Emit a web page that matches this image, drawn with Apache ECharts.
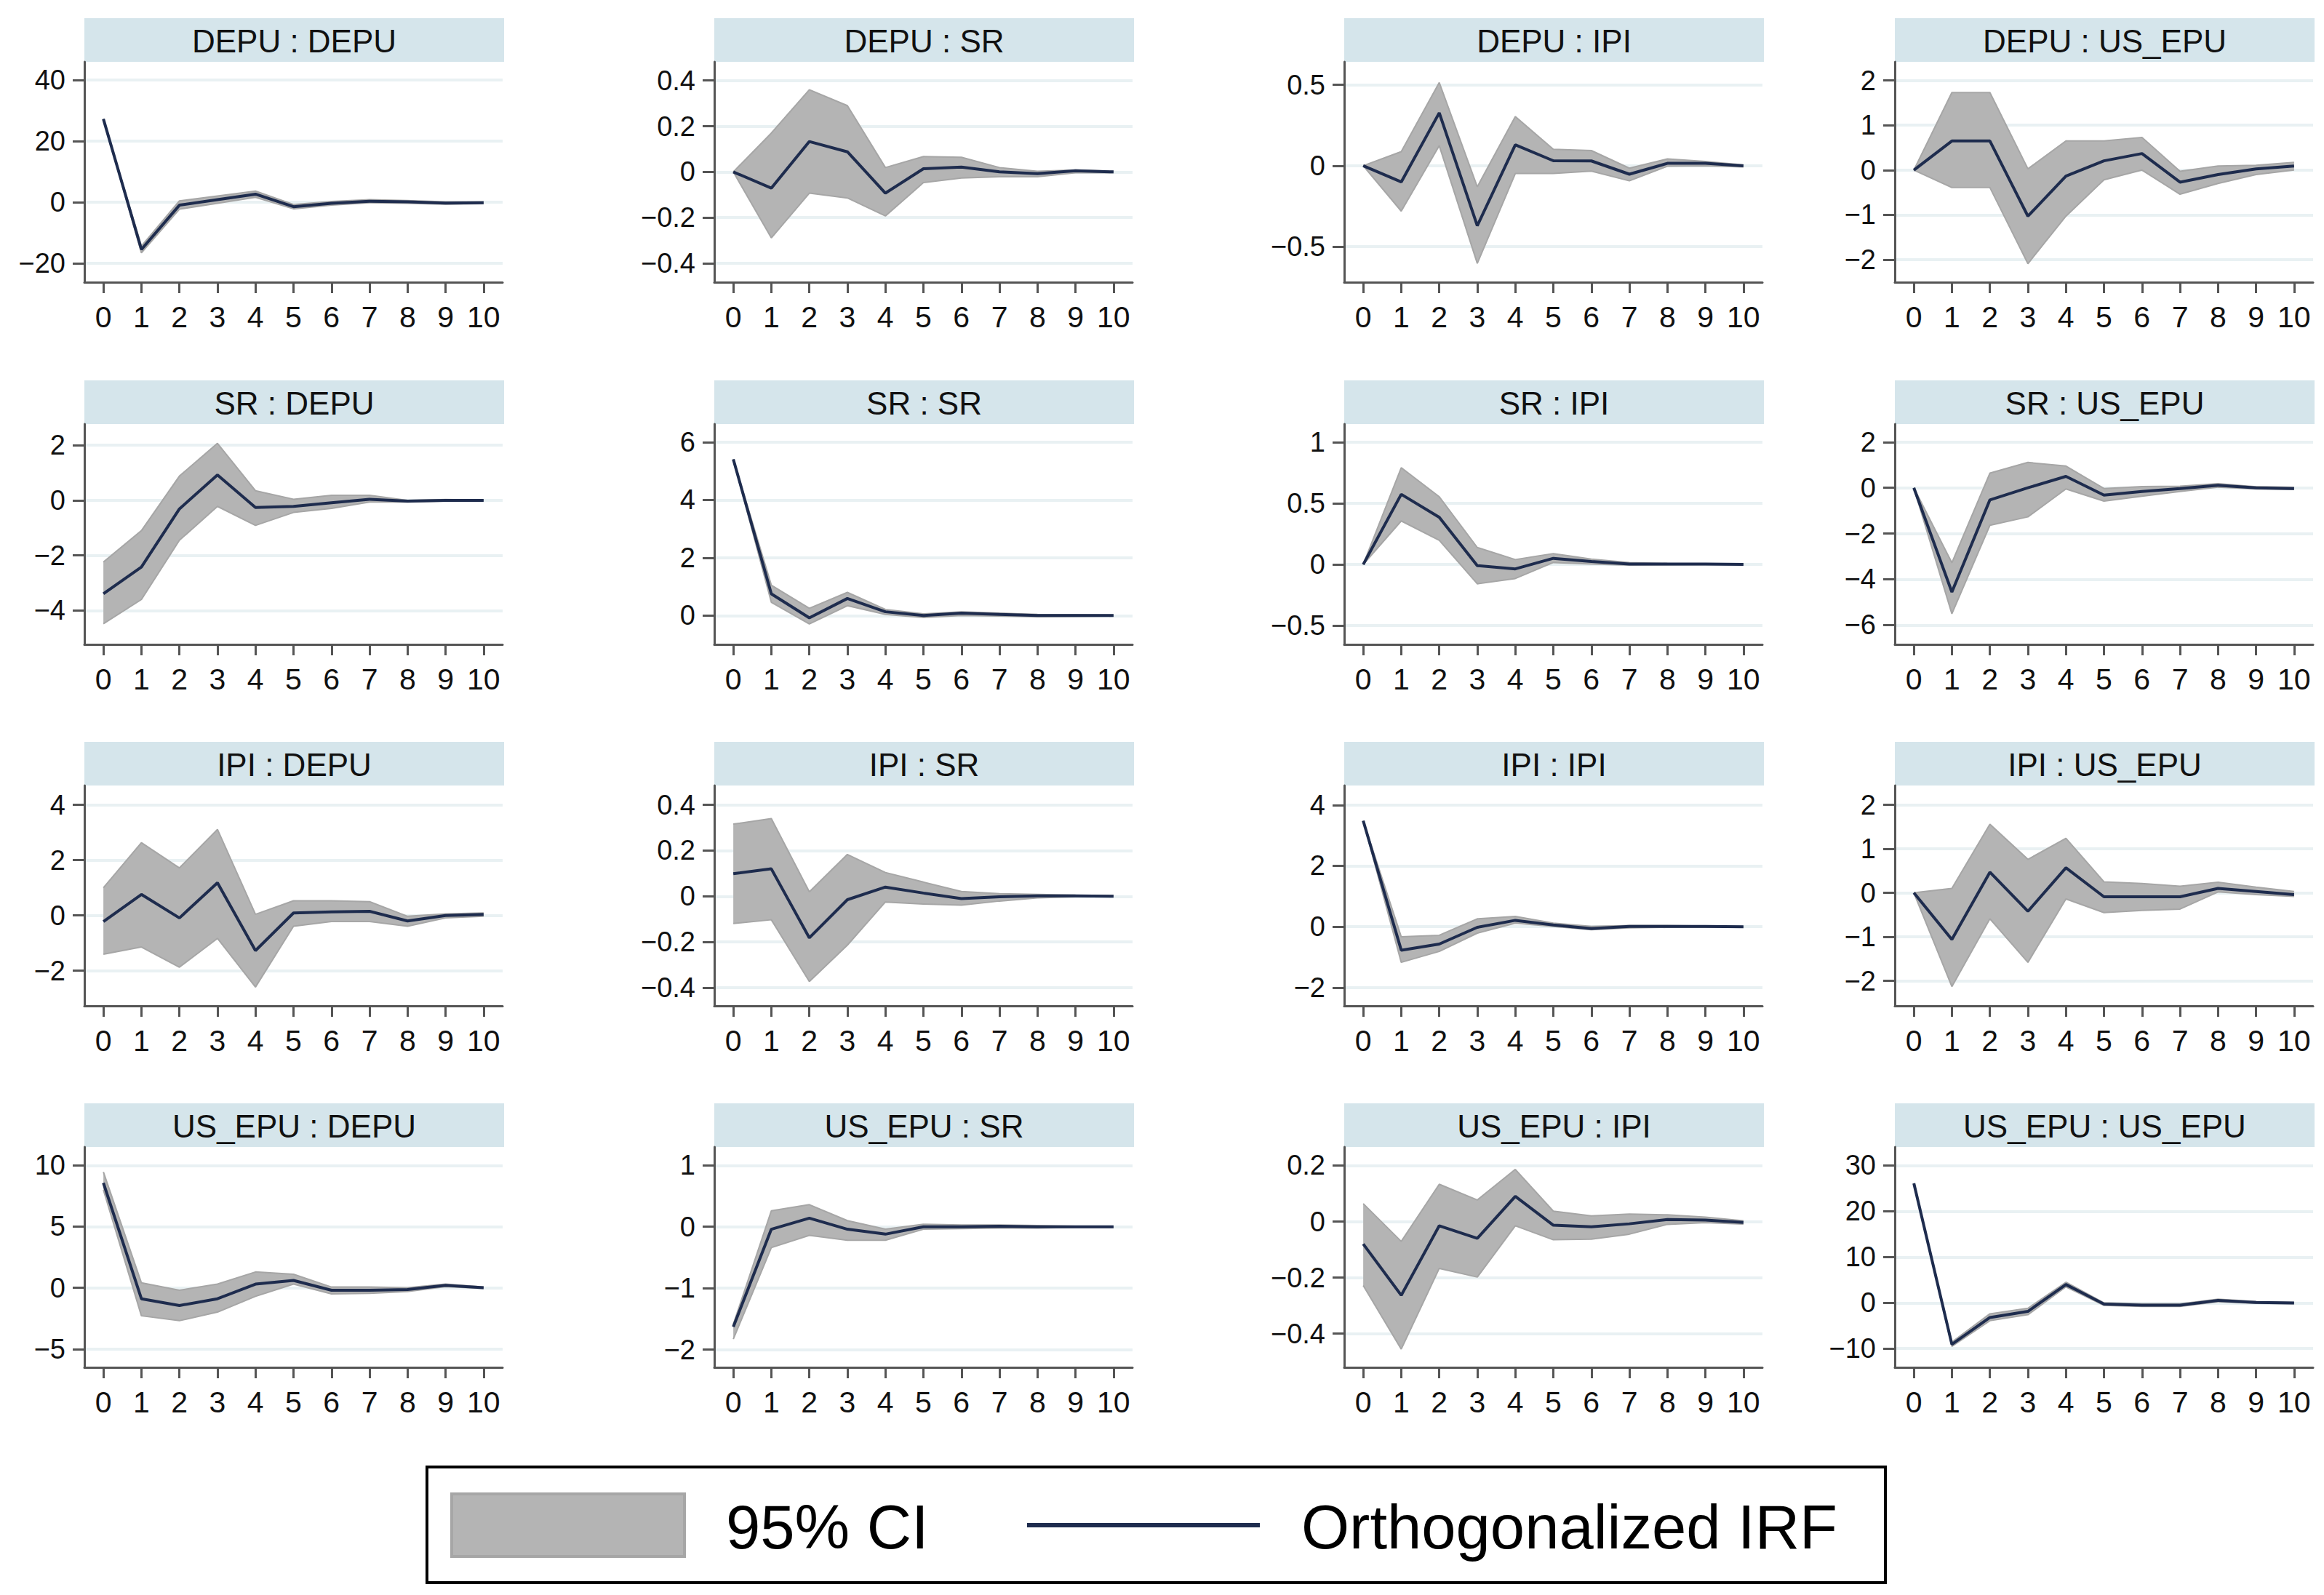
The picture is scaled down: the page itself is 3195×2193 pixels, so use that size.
<!DOCTYPE html>
<html>
<head>
<meta charset="utf-8">
<script src="https://cdn.jsdelivr.net/npm/echarts@6/dist/echarts.min.js"></script>
<style>html,body{margin:0;padding:0;background:#fff}#c{width:3195px;height:2193px}</style>
</head>
<body>
<div id="c"></div>
<script>
// ---------------- DATA ----------------
const horizons = ['0','1','2','3','4','5','6','7','8','9','10'];
const variables = ['DEPU', 'SR', 'IPI', 'US_EPU'];

// impulse DEPU
const irf_DEPU_DEPU = [27.2, -15.5, -1.0, 0.8, 2.6, -1.5, -0.4, 0.3, 0.1, -0.3, -0.2];
const lo_DEPU_DEPU  = [27.2, -16.6, -2.3, -0.4, 1.6, -2.2, -1.0, -0.2, -0.4, -0.7, -0.5];
const hi_DEPU_DEPU  = [27.2, -14.4, 0.4, 2.0, 3.6, -0.8, 0.2, 0.8, 0.5, 0.1, 0.1];
const ticks_DEPU_DEPU = [-20, 0, 20, 40];
const range_DEPU_DEPU = [-26.2, 45.9];

const irf_DEPU_SR = [0, -0.071, 0.133, 0.088, -0.093, 0.014, 0.021, 0.0, -0.008, 0.005, 0];
const lo_DEPU_SR  = [0, -0.289, -0.093, -0.114, -0.193, -0.047, -0.027, -0.021, -0.021, -0.004, -0.004];
const hi_DEPU_SR  = [0, 0.17, 0.36, 0.29, 0.019, 0.067, 0.064, 0.019, 0.003, 0.008, 0.003];
const ticks_DEPU_SR = [-0.4, -0.2, 0, 0.2, 0.4];
const range_DEPU_SR = [-0.483, 0.482];

const irf_DEPU_IPI = [0, -0.10, 0.327, -0.37, 0.129, 0.031, 0.030, -0.052, 0.015, 0.015, 0];
const lo_DEPU_IPI  = [0, -0.28, 0.124, -0.603, -0.048, -0.048, -0.033, -0.093, -0.003, 0, -0.007];
const hi_DEPU_IPI  = [0, 0.087, 0.514, -0.13, 0.304, 0.102, 0.094, -0.015, 0.042, 0.027, 0.005];
const ticks_DEPU_IPI = [-0.5, 0, 0.5];
const range_DEPU_IPI = [-0.719, 0.642];

const irf_DEPU_US_EPU = [0, 0.65, 0.65, -1.03, -0.135, 0.206, 0.369, -0.27, -0.1, 0.027, 0.092];
const lo_DEPU_US_EPU  = [0, -0.39, -0.39, -2.09, -1.03, -0.217, 0, -0.54, -0.3, -0.1, 0];
const hi_DEPU_US_EPU  = [0, 1.73, 1.73, 0.027, 0.65, 0.65, 0.73, -0.027, 0.092, 0.108, 0.173];
const ticks_DEPU_US_EPU = [-2, -1, 0, 1, 2];
const range_DEPU_US_EPU = [-2.504, 2.417];

// impulse SR
const irf_SR_DEPU = [-3.39, -2.42, -0.31, 0.92, -0.26, -0.22, -0.09, 0.04, -0.03, 0, 0];
const lo_SR_DEPU  = [-4.48, -3.6, -1.45, -0.22, -0.91, -0.44, -0.29, -0.06, -0.06, -0.03, -0.01];
const hi_SR_DEPU  = [-2.24, -1.1, 0.88, 2.07, 0.35, 0.04, 0.18, 0.18, 0, 0.03, 0.01];
const ticks_SR_DEPU = [-4, -2, 0, 2];
const range_SR_DEPU = [-5.23, 2.77];

const irf_SR_SR = [5.41, 0.75, -0.08, 0.59, 0.13, 0, 0.08, 0.04, 0, 0, 0];
const lo_SR_SR  = [5.41, 0.46, -0.29, 0.34, 0.04, -0.07, 0, -0.02, -0.04, -0.03, -0.02];
const hi_SR_SR  = [5.41, 1.05, 0.25, 0.8, 0.21, 0.06, 0.13, 0.08, 0.04, 0.03, 0.02];
const ticks_SR_SR = [0, 2, 4, 6];
const range_SR_SR = [-1.0, 6.63];

const irf_SR_IPI = [0, 0.574, 0.386, -0.01, -0.036, 0.05, 0.024, 0.004, 0.004, 0.004, 0];
const lo_SR_IPI  = [0, 0.356, 0.198, -0.158, -0.115, 0.016, 0.004, -0.006, -0.004, -0.002, -0.002];
const hi_SR_IPI  = [0, 0.792, 0.554, 0.139, 0.04, 0.089, 0.044, 0.016, 0.008, 0.006, 0.002];
const ticks_SR_IPI = [-0.5, 0, 0.5, 1];
const range_SR_IPI = [-0.654, 1.149];

const irf_SR_US_EPU = [0, -4.56, -0.53, 0, 0.5, -0.32, -0.16, -0.03, 0.11, 0, -0.03];
const lo_SR_US_EPU  = [0, -5.51, -1.64, -1.27, -0.05, -0.58, -0.37, -0.16, 0.03, -0.05, -0.07];
const hi_SR_US_EPU  = [0, -3.28, 0.64, 1.11, 0.95, -0.03, 0.05, 0.07, 0.18, 0.05, 0.02];
const ticks_SR_US_EPU = [-6, -4, -2, 0, 2];
const range_SR_US_EPU = [-6.85, 2.79];

// impulse IPI
const irf_IPI_DEPU = [-0.22, 0.76, -0.09, 1.18, -1.27, 0.09, 0.13, 0.15, -0.2, 0, 0.04];
const lo_IPI_DEPU  = [-1.4, -1.14, -1.87, -0.83, -2.59, -0.39, -0.22, -0.22, -0.39, -0.09, -0.03];
const hi_IPI_DEPU  = [1.0, 2.63, 1.72, 3.11, 0.04, 0.53, 0.53, 0.5, -0.03, 0.06, 0.09];
const ticks_IPI_DEPU = [-2, 0, 2, 4];
const range_IPI_DEPU = [-3.27, 4.70];

const irf_IPI_SR = [0.099, 0.12, -0.182, -0.015, 0.04, 0.014, -0.01, -0.002, 0.002, 0.002, 0];
const lo_IPI_SR  = [-0.119, -0.103, -0.373, -0.214, -0.025, -0.034, -0.039, -0.021, -0.007, -0.002, -0.002];
const hi_IPI_SR  = [0.316, 0.34, 0.019, 0.183, 0.104, 0.062, 0.021, 0.011, 0.008, 0.005, 0.003];
const ticks_IPI_SR = [-0.4, -0.2, 0, 0.2, 0.4];
const range_IPI_SR = [-0.48, 0.485];

const irf_IPI_IPI = [3.48, -0.77, -0.57, -0.02, 0.21, 0.06, -0.06, 0.01, 0.01, 0.01, 0];
const lo_IPI_IPI  = [3.48, -1.17, -0.81, -0.21, 0.12, 0.01, -0.1, -0.04, -0.02, -0.02, -0.01];
const hi_IPI_IPI  = [3.48, -0.33, -0.28, 0.26, 0.34, 0.12, 0.01, 0.04, 0.04, 0.02, 0.01];
const ticks_IPI_IPI = [-2, 0, 2, 4];
const range_IPI_IPI = [-2.6, 4.64];

const irf_IPI_US_EPU = [0, -1.06, 0.47, -0.42, 0.57, -0.09, -0.09, -0.09, 0.1, 0.03, -0.04];
const lo_IPI_US_EPU  = [0, -2.13, -0.59, -1.58, -0.14, -0.45, -0.4, -0.37, 0.02, -0.04, -0.08];
const hi_IPI_US_EPU  = [0, 0.1, 1.56, 0.76, 1.24, 0.25, 0.21, 0.15, 0.24, 0.13, 0.03];
const ticks_IPI_US_EPU = [-2, -1, 0, 1, 2];
const range_IPI_US_EPU = [-2.57, 2.44];

// impulse US_EPU
const irf_US_EPU_DEPU = [8.57, -0.9, -1.45, -0.9, 0.3, 0.6, -0.2, -0.2, -0.14, 0.2, 0];
const lo_US_EPU_DEPU  = [8.0, -2.29, -2.69, -1.99, -0.7, 0.3, -0.5, -0.46, -0.3, 0.1, -0.06];
const hi_US_EPU_DEPU  = [9.46, 0.4, -0.2, 0.3, 1.29, 1.1, 0.06, 0.06, 0, 0.3, 0.06];
const ticks_US_EPU_DEPU = [-5, 0, 5, 10];
const range_US_EPU_DEPU = [-6.5, 11.5];

const irf_US_EPU_SR = [-1.63, -0.04, 0.14, -0.04, -0.12, 0, 0, 0.01, 0, 0, 0];
const lo_US_EPU_SR  = [-1.83, -0.34, -0.14, -0.22, -0.22, -0.04, -0.03, -0.02, -0.02, -0.01, -0.01];
const hi_US_EPU_SR  = [-1.59, 0.26, 0.36, 0.1, -0.04, 0.04, 0.03, 0.03, 0.02, 0.01, 0.01];
const ticks_US_EPU_SR = [-2, -1, 0, 1];
const range_US_EPU_SR = [-2.29, 1.30];

const irf_US_EPU_IPI = [-0.08, -0.263, -0.015, -0.06, 0.09, -0.013, -0.019, -0.008, 0.007, 0.005, -0.003];
const lo_US_EPU_IPI  = [-0.228, -0.455, -0.167, -0.198, -0.015, -0.065, -0.063, -0.045, -0.01, -0.004, -0.009];
const hi_US_EPU_IPI  = [0.064, -0.071, 0.133, 0.077, 0.186, 0.037, 0.02, 0.027, 0.024, 0.016, 0.003];
const ticks_US_EPU_IPI = [-0.4, -0.2, 0, 0.2];
const range_US_EPU_IPI = [-0.52, 0.266];

const irf_US_EPU_US_EPU = [26.1, -9.07, -3.2, -1.87, 4.0, -0.27, -0.53, -0.53, 0.53, 0.1, -0.05];
const lo_US_EPU_US_EPU  = [26.1, -9.5, -3.9, -2.6, 3.5, -0.55, -0.8, -0.8, 0.25, -0.1, -0.2];
const hi_US_EPU_US_EPU  = [26.1, -8.6, -2.4, -1.2, 4.5, 0.0, -0.25, -0.25, 0.8, 0.3, 0.1];
const ticks_US_EPU_US_EPU = [-10, 0, 10, 20, 30];
const range_US_EPU_US_EPU = [-14.1, 34.05];

const legendLabels = ['95% CI', 'Orthogonalized IRF'];

// ---------------- PANEL TABLE ----------------
const panels = [
  ['DEPU','DEPU', irf_DEPU_DEPU, lo_DEPU_DEPU, hi_DEPU_DEPU, ticks_DEPU_DEPU, range_DEPU_DEPU],
  ['DEPU','SR', irf_DEPU_SR, lo_DEPU_SR, hi_DEPU_SR, ticks_DEPU_SR, range_DEPU_SR],
  ['DEPU','IPI', irf_DEPU_IPI, lo_DEPU_IPI, hi_DEPU_IPI, ticks_DEPU_IPI, range_DEPU_IPI],
  ['DEPU','US_EPU', irf_DEPU_US_EPU, lo_DEPU_US_EPU, hi_DEPU_US_EPU, ticks_DEPU_US_EPU, range_DEPU_US_EPU],
  ['SR','DEPU', irf_SR_DEPU, lo_SR_DEPU, hi_SR_DEPU, ticks_SR_DEPU, range_SR_DEPU],
  ['SR','SR', irf_SR_SR, lo_SR_SR, hi_SR_SR, ticks_SR_SR, range_SR_SR],
  ['SR','IPI', irf_SR_IPI, lo_SR_IPI, hi_SR_IPI, ticks_SR_IPI, range_SR_IPI],
  ['SR','US_EPU', irf_SR_US_EPU, lo_SR_US_EPU, hi_SR_US_EPU, ticks_SR_US_EPU, range_SR_US_EPU],
  ['IPI','DEPU', irf_IPI_DEPU, lo_IPI_DEPU, hi_IPI_DEPU, ticks_IPI_DEPU, range_IPI_DEPU],
  ['IPI','SR', irf_IPI_SR, lo_IPI_SR, hi_IPI_SR, ticks_IPI_SR, range_IPI_SR],
  ['IPI','IPI', irf_IPI_IPI, lo_IPI_IPI, hi_IPI_IPI, ticks_IPI_IPI, range_IPI_IPI],
  ['IPI','US_EPU', irf_IPI_US_EPU, lo_IPI_US_EPU, hi_IPI_US_EPU, ticks_IPI_US_EPU, range_IPI_US_EPU],
  ['US_EPU','DEPU', irf_US_EPU_DEPU, lo_US_EPU_DEPU, hi_US_EPU_DEPU, ticks_US_EPU_DEPU, range_US_EPU_DEPU],
  ['US_EPU','SR', irf_US_EPU_SR, lo_US_EPU_SR, hi_US_EPU_SR, ticks_US_EPU_SR, range_US_EPU_SR],
  ['US_EPU','IPI', irf_US_EPU_IPI, lo_US_EPU_IPI, hi_US_EPU_IPI, ticks_US_EPU_IPI, range_US_EPU_IPI],
  ['US_EPU','US_EPU', irf_US_EPU_US_EPU, lo_US_EPU_US_EPU, hi_US_EPU_US_EPU, ticks_US_EPU_US_EPU, range_US_EPU_US_EPU]
];

// ---------------- LAYOUT & STYLE ----------------
const FONT = '"Liberation Sans", Arial, Helvetica, sans-serif';
const colLeft = [116, 982, 1848, 2605];
const rowTop = [25, 523, 1020, 1517];
const PW = 575, HEAD = 60, PH = 303;
const NAVY = '#1e2c4e', FILL = '#b4b4b4', EDGE = '#a6a6a6', AX = '#555555', GRID = '#e9f1f3', STRIP = '#d5e5eb';

const fmt = v => (v < 0 ? '\u2212' + String(-v) : String(v));

const grids = [], xAxes = [], yAxes = [], series = [], graphics = [];

panels.forEach((p, i) => {
  const [imp, resp, irf, lo, hi, ticks, range] = p;
  const r = Math.floor(i / 4), c = i % 4;
  const L = colLeft[c], T = rowTop[r];
  grids.push({ left: L, top: T + HEAD, width: PW, height: PH, containLabel: false });
  xAxes.push({
    type: 'category', gridIndex: i, data: horizons, boundaryGap: true,
    axisLine: { show: true, onZero: false, lineStyle: { color: AX, width: 3 } },
    axisTick: { show: true, alignWithLabel: true, interval: 0, length: 15, lineStyle: { color: AX, width: 3 } },
    axisLabel: { interval: 0, fontSize: 41, fontFamily: FONT, color: '#111', margin: 27 },
    splitLine: { show: false }
  });
  yAxes.push({
    type: 'value', gridIndex: i, min: range[0], max: range[1],
    axisLine: { show: true, lineStyle: { color: AX, width: 3 } },
    axisTick: { show: true, length: 16, customValues: ticks, lineStyle: { color: AX, width: 3 } },
    axisLabel: { customValues: ticks, formatter: fmt, fontSize: 38, fontFamily: FONT, color: '#111', margin: 26 },
    splitLine: { show: true, lineStyle: { color: GRID, width: 4 } }
  });
  series.push({
    type: 'line', name: legendLabels[0], xAxisIndex: i, yAxisIndex: i, data: lo,
    stack: 'ci' + i, stackStrategy: 'all', symbol: 'none', silent: true, z: 2,
    lineStyle: { color: EDGE, width: 2 }
  });
  series.push({
    type: 'line', name: legendLabels[0], xAxisIndex: i, yAxisIndex: i,
    data: hi.map((h, k) => +(h - lo[k]).toFixed(6)),
    stack: 'ci' + i, stackStrategy: 'all', symbol: 'none', silent: true, z: 2,
    lineStyle: { color: EDGE, width: 2 }, areaStyle: { color: FILL, opacity: 1 }
  });
  series.push({
    type: 'line', name: legendLabels[1], xAxisIndex: i, yAxisIndex: i, data: irf,
    symbol: 'none', silent: true, z: 4, lineStyle: { color: NAVY, width: 4 }
  });
  // strip header
  graphics.push({ type: 'rect', shape: { x: L, y: T, width: PW + 2, height: HEAD }, style: { fill: STRIP }, silent: true });
  graphics.push({
    type: 'text', x: L + (PW + 2) / 2, y: T + HEAD / 2 + 1,
    style: { text: imp + ' : ' + resp, fontSize: 44, fontFamily: FONT, fill: '#111', align: 'center', verticalAlign: 'middle' },
    silent: true
  });
});

// legend box
graphics.push({ type: 'rect', shape: { x: 587, y: 2017, width: 2005, height: 159 }, style: { fill: '#fff', stroke: '#000', lineWidth: 4 }, silent: true });
graphics.push({ type: 'rect', shape: { x: 621, y: 2054, width: 320, height: 86 }, style: { fill: FILL, stroke: EDGE, lineWidth: 4 }, silent: true });
graphics.push({ type: 'text', x: 998, y: 2099, style: { text: legendLabels[0], fontSize: 85, fontFamily: FONT, fill: '#000', align: 'left', verticalAlign: 'middle' }, silent: true });
graphics.push({ type: 'line', shape: { x1: 1412, y1: 2097, x2: 1732, y2: 2097 }, style: { stroke: NAVY, lineWidth: 6 }, silent: true });
graphics.push({ type: 'text', x: 1789, y: 2099, style: { text: legendLabels[1], fontSize: 85, fontFamily: FONT, fill: '#000', align: 'left', verticalAlign: 'middle' }, silent: true });

const chart = echarts.init(document.getElementById('c'), null, { renderer: 'svg', width: 3195, height: 2193 });
chart.setOption({
  backgroundColor: '#ffffff',
  animation: false,
  grid: grids,
  xAxis: xAxes,
  yAxis: yAxes,
  series: series,
  graphic: graphics
});
</script>
</body>
</html>
